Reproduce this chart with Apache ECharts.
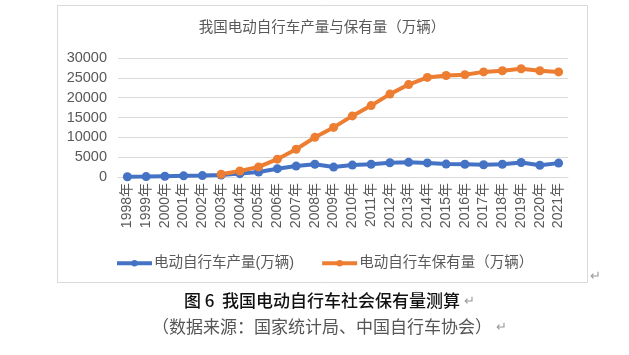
<!DOCTYPE html>
<html>
<head>
<meta charset="utf-8">
<script src="https://cdn.jsdelivr.net/npm/echarts@6/dist/echarts.min.js"></script>
<style>html,body{margin:0;padding:0;background:#fff;}#c{width:629px;height:355px;}</style>
</head>
<body>
<div id="c"></div>
<script>
var years = ['1998年','1999年','2000年','2001年','2002年','2003年','2004年','2005年','2006年','2007年','2008年','2009年','2010年','2011年','2012年','2013年','2014年','2015年','2016年','2017年','2018年','2019年','2020年','2021年'];
var production = [50, 100, 200, 300, 350, 500, 850, 1250, 2100, 2750, 3200, 2500, 3000, 3200, 3600, 3700, 3550, 3250, 3200, 3100, 3200, 3650, 2950, 3500];
var ownership = [null, null, null, null, null, 680, 1500, 2550, 4500, 7000, 10000, 12500, 15400, 18000, 20900, 23300, 25100, 25600, 25800, 26500, 26800, 27300, 26800, 26500];
var yTicks = {min: 0, max: 30000, interval: 5000};
var seriesNames = ['电动自行车产量(万辆)', '电动自行车保有量（万辆）'];
var chartTitle = '我国电动自行车产量与保有量（万辆）';
var caption1 = '图 6  我国电动自行车社会保有量测算';
var caption2 = '（数据来源：国家统计局、中国自行车协会）';

var FONT = '"Liberation Sans", "Noto Sans CJK SC", sans-serif';
var chart = echarts.init(document.getElementById('c'), null, {renderer: 'canvas'});
chart.setOption({
  animation: false,
  backgroundColor: '#fff',
  textStyle: {fontFamily: FONT},
  grid: {left: 118, right: 61, top: 58, bottom: 178, containLabel: false},
  xAxis: {
    type: 'category',
    data: years,
    boundaryGap: true,
    axisLine: {show: true, lineStyle: {color: '#d9d9d9', width: 1}},
    axisTick: {show: false},
    axisLabel: {rotate: 90, fontSize: 14, color: '#595959', margin: 6, interval: 0, fontFamily: FONT}
  },
  yAxis: {
    type: 'value',
    min: yTicks.min, max: yTicks.max, interval: yTicks.interval,
    axisLine: {show: false},
    axisTick: {show: false},
    axisLabel: {fontSize: 14.5, color: '#595959', margin: 11, fontFamily: FONT, formatter: function (v) { return String(v); }},
    splitLine: {lineStyle: {color: '#d9d9d9', width: 1}}
  },
  legend: {
    left: 110, top: 251,
    itemWidth: 35, itemHeight: 8, itemGap: 26,
    lineStyle: {width: 4},
    textStyle: {fontSize: 14.5, color: '#595959', fontFamily: FONT, padding: [0,0,0,-3]},
    data: seriesNames
  },
  series: [
    {
      name: seriesNames[0], type: 'line', data: production,
      symbol: 'circle', symbolSize: 9, showSymbol: true,
      lineStyle: {color: '#4472C4', width: 4},
      itemStyle: {color: '#4472C4'}
    },
    {
      name: seriesNames[1], type: 'line', data: ownership,
      symbol: 'circle', symbolSize: 9, showSymbol: true, connectNulls: false,
      lineStyle: {color: '#ED7D31', width: 4},
      itemStyle: {color: '#ED7D31'}
    }
  ],
  graphic: [
    {type: 'rect', shape: {x: 57.5, y: 5.5, width: 530, height: 277}, style: {fill: 'none', stroke: '#d9d9d9', lineWidth: 1}, z: -1},
    {type: 'text', x: 322, y: 28, style: {text: chartTitle, fontSize: 14.5, fill: '#595959', fontFamily: FONT, textAlign: 'center', textVerticalAlign: 'middle'}},
    {type: 'text', x: 595, y: 276, style: {text: '↵', fontSize: 13, fill: '#999', fontFamily: FONT, textAlign: 'center', textVerticalAlign: 'middle'}},
    {type: 'text', x: 322, y: 301, style: {text: caption1, fontSize: 17, fontWeight: 500, fill: '#111', fontFamily: '"Noto Sans CJK SC", sans-serif', textAlign: 'center', textVerticalAlign: 'middle'}},
    {type: 'text', x: 469, y: 301, style: {text: '↵', fontSize: 13, fill: '#999', fontFamily: FONT, textAlign: 'center', textVerticalAlign: 'middle'}},
    {type: 'text', x: 322, y: 327, style: {text: caption2, fontSize: 17, fill: '#555', fontFamily: '"Noto Sans CJK SC", sans-serif', textAlign: 'center', textVerticalAlign: 'middle'}},
    {type: 'text', x: 501, y: 327, style: {text: '↵', fontSize: 13, fill: '#999', fontFamily: FONT, textAlign: 'center', textVerticalAlign: 'middle'}}
  ]
});
</script>
</body>
</html>
